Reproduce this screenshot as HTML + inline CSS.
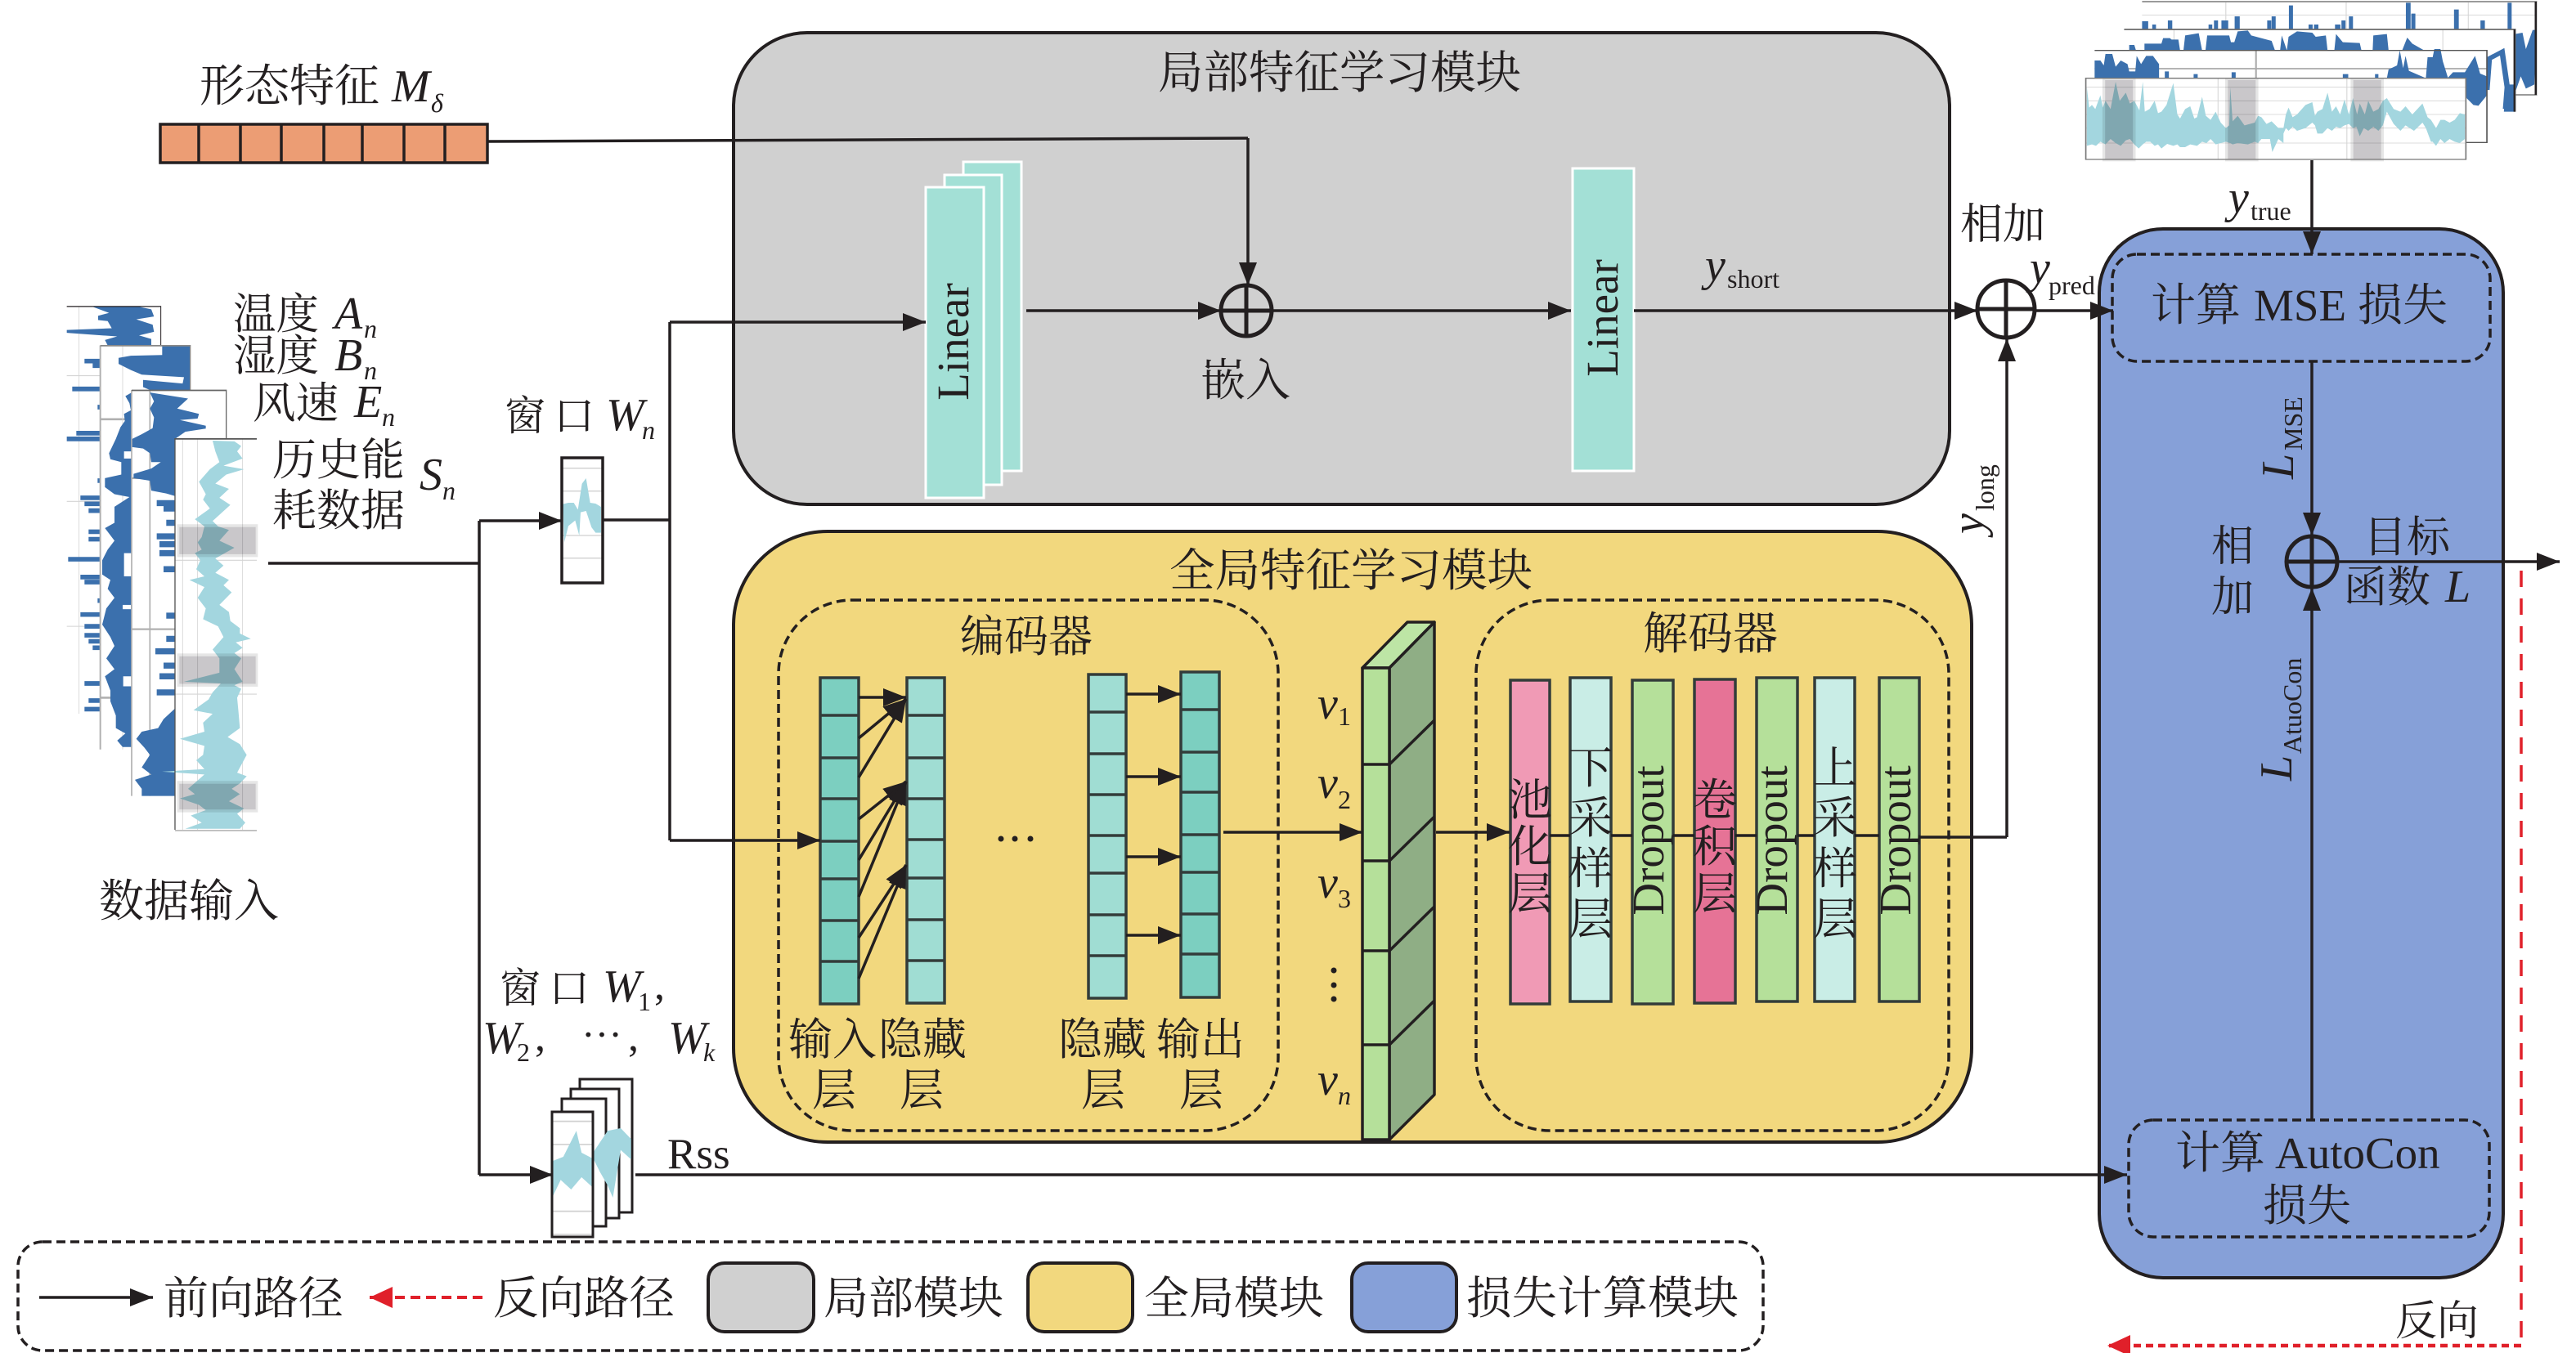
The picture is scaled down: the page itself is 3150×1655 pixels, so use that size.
<!DOCTYPE html>
<html lang="zh"><head><meta charset="utf-8"><title>模型结构图</title>
<style>
html,body{margin:0;padding:0;background:#fff}
svg{display:block}
text{font-family:"Liberation Serif","Noto Serif CJK SC",serif;fill:#231f20;font-size:54px}
.i{font-style:italic}
.s{font-size:32px}
.l{fill:none;stroke:#231f20;stroke-width:3.5}
.a{fill:none;stroke:#231f20;stroke-width:3.5;marker-end:url(#ar)}
.d{fill:none;stroke:#231f20;stroke-width:3.5;stroke-dasharray:11 6}
.g{fill:none;stroke:#d4d4d4;stroke-width:2.5}
.b{fill:#3b70ad}
.w{fill:#a3d6df}
</style></head><body>
<svg xmlns="http://www.w3.org/2000/svg" width="3150" height="1655" viewBox="0 0 3150 1655">
<defs>
<marker id="ar" markerUnits="userSpaceOnUse" markerWidth="30" markerHeight="24" refX="28" refY="11" orient="auto"><path d="M0 0L28 11L0 22Z" fill="#231f20"/></marker>
<marker id="rd" markerUnits="userSpaceOnUse" markerWidth="30" markerHeight="28" refX="28" refY="13" orient="auto"><path d="M0 0L28 13L0 26Z" fill="#e0202a"/></marker>
</defs>
<rect width="3150" height="1655" fill="#fff"/>

<!-- module backgrounds -->
<rect x="897" y="40" width="1487" height="577" rx="90" fill="#d0d0d0" stroke="#231f20" stroke-width="4"/>
<rect x="897" y="650" width="1514" height="747" rx="115" fill="#f2d87e" stroke="#231f20" stroke-width="4"/>
<rect x="2567" y="280" width="494" height="1283" rx="78" fill="#86a0d8" stroke="#231f20" stroke-width="4"/>

<!-- top-right stack -->
<g transform="translate(2500,0) scale(.4146,.3333)">
<rect x="288" y="5" width="1162" height="343" fill="#fff"/>
<path class="g" d="M288 55H1450M535 5V108M890 5V108M1250 5V108"/>
<path class="b" d="M288 108V78h18v30zM318 108V90h11v18zM364 108V75h13v33zM484 108V90h11v18zM500 108V75h12v33zM522 108V75h20v33zM561 108V60h15v48zM657 108V75h12v33zM670 108V60h12v48zM721 108V20h12v88zM779 108V90h12v18zM795 108V90h13v18zM857 108V90h16v18zM876 108V75h12v33zM898 108V60h12v48zM1066 108V10h14v98zM1082 108V50h12v58zM1208 108V35h14v73zM1286 108V75h13v33zM1366 108V10h12v98z"/>
<polygon class="b" points="1388,125 1410,120 1420,180 1440,110 1450,110 1445,310 1420,325 1405,280 1388,340"/>
<path d="M288 6H1450V348H1388" fill="none" stroke="#9a9a9a" stroke-width="6"/>
<path d="M1449 6V348" stroke="#231f20" stroke-width="6"/>
<rect x="235" y="108" width="1153" height="302" fill="#fff"/>
<path class="g" d="M382 108V185M1175 108V185"/>
<polygon class="b" points="250,185 250,165 265,165 270,185 295,185 295,160 345,160 350,140 370,140 375,145 395,145 400,185 410,185 415,130 455,122 465,185 475,185 480,130 545,130 550,155 560,155 570,115 600,112 610,130 670,150 680,185 695,185 700,130 715,185 720,135 745,115 790,120 800,135 830,130 835,185 855,185 860,125 880,155 930,158 935,185"/>
<polygon class="b" points="968,185 970,130 1010,125 1015,185"/>
<polygon class="b" points="1055,185 1070,138 1085,160 1120,185"/>
<path d="M1305 330L1312 215L1350 190L1365 320L1360 400" fill="none" stroke="#3b70ad" stroke-width="16"/>
<polygon class="b" points="1355,410 1388,410 1388,310 1362,310"/>
<path d="M235 108H1388V410" fill="none" stroke="#6a6a6a" stroke-width="5"/>
<path d="M1386 108V410" stroke="#231f20" stroke-width="5"/>
<rect x="148" y="185" width="1157" height="338" fill="#fff"/>
<path d="M148 252H1305" stroke="#aaa" stroke-width="5"/><path d="M624 185V287" stroke="#aaa" stroke-width="5"/>
<polygon class="b" points="148,287 148,222 165,222 175,240 180,198 200,198 210,245 225,222 245,235 250,262 268,262 272,205 285,235 300,205 320,205 338,235 338,287"/>
<path class="b" d="M355 287V262h12v25zM440 287V272h12v15zM552 287V265h12v22zM880 287V272h16v15zM975 287V272h10v15z"/>
<polygon class="b" points="1010,287 1015,255 1040,240 1048,185 1058,250 1065,205 1075,260 1125,287 1130,210 1145,210 1150,180 1168,180 1175,225 1190,285 1205,265 1240,265 1270,205 1285,270 1305,280 1305,350 1280,388 1265,385 1245,360 1240,287"/>
<path d="M148 185H1305V523H1240" fill="none" stroke="#555" stroke-width="4"/>
<rect x="122" y="287" width="1121" height="298" fill="#fff"/>
<path class="g" d="M122 320H1243M122 370H1243M122 420H1243M122 470H1243M122 525H1243M512 287V585M892 287V585"/>
<polygon class="w" points="125,320 132,395 140,385 150,400 165,350 172,395 180,370 195,400 210,300 222,370 240,340 252,380 265,370 280,405 290,300 296,410 310,400 325,370 335,415 345,410 360,385 380,305 392,420 400,435 415,400 430,390 442,435 450,430 465,355 476,425 490,440 505,410 520,450 535,470 545,460 548,320 555,445 570,425 590,460 620,450 630,425 640,430 655,455 670,445 690,470 705,470 712,420 720,395 732,430 745,420 770,385 790,375 798,425 805,410 820,400 835,340 848,410 860,390 872,420 885,365 898,420 910,360 922,420 930,380 945,420 955,370 970,410 985,400 998,370 1010,360 1030,400 1050,410 1065,390 1085,420 1115,380 1130,430 1140,440 1155,470 1168,440 1180,440 1195,450 1210,440 1225,415 1240,420 1240,510 1225,525 1210,520 1195,510 1180,525 1168,510 1155,535 1145,520 1140,520 1125,470 1115,450 1090,480 1065,460 1050,480 1030,455 1010,410 998,460 985,480 970,465 955,480 942,470 930,500 920,465 910,470 898,455 885,460 872,470 860,465 848,480 835,470 820,490 805,490 798,460 790,450 770,470 745,480 732,465 720,480 712,470 705,490 705,525 690,510 672,558 665,510 640,510 630,525 620,520 600,530 570,525 555,530 548,525 535,520 520,525 505,530 490,510 478,525 465,520 450,535 430,530 415,540 400,540 392,530 380,535 362,528 345,545 335,530 325,535 312,520 300,520 290,530 278,545 265,530 252,510 240,515 225,535 210,525 195,510 180,530 165,520 152,535 140,530 125,535"/>
<g style="mix-blend-mode:multiply" fill="#c9c7ca" stroke="#e6e6e6" stroke-width="8">
<rect x="175" y="290" width="90" height="298"/><rect x="537" y="290" width="90" height="298"/><rect x="907" y="290" width="90" height="298"/></g>
<path d="M122 287H1243V585H122Z" fill="none" stroke="#777" stroke-width="4"/>
</g>

<!-- left stack -->
<g transform="translate(60,360) scale(.3333,.4367)">
<rect x="65" y="33" width="345" height="1142" fill="#fff"/>
<path class="g" d="M110 33V1175M65 228H188M65 580H188M65 930H188" stroke-width="3"/>
<path fill="none" stroke="#3b70ad" stroke-width="13" d="M130 187H188M160 200H188M85 265H188M178 316H188M100 389H188M65 405H188M178 522H188M115 570H188M130 587H188M145 606H188M145 665H188M145 686H188M70 742H188M115 792H188M130 806H188M178 858H188M115 897H188M130 930H188M130 955H188M145 972H188M160 990H188M130 1090H188M145 1138H188M130 1162H188"/>
<polygon class="b" points="160,35 330,35 375,42 385,62 320,70 380,85 385,105 330,115 375,125 375,143 215,143 205,128 250,118 65,108 65,100 230,95 215,75 180,72 180,60 220,52"/>
<path d="M65 34H410V143" fill="none" stroke="#231f20" stroke-width="3"/>
<rect x="188" y="143" width="330" height="1132" fill="#fff"/>
<path d="M188 143V1275M188 350H303M188 1130H303" fill="none" stroke="#b0b0b0" stroke-width="6"/><path class="g" d="M270 143V1275"/>
<polygon class="b" points="518,145 415,145 415,170 300,172 255,178 255,195 300,212 340,225 495,232 490,250 345,240 345,260 370,268 518,268"/>
<polygon class="b" points="303,275 280,285 295,305 300,325 275,335 278,355 262,372 245,405 220,445 225,462 265,470 265,505 205,515 205,540 240,560 295,568 240,595 240,640 205,655 240,690 215,715 195,745 195,785 225,800 215,825 240,850 210,880 195,925 225,960 240,985 210,1020 240,1050 205,1070 225,1110 225,1140 245,1180 245,1215 280,1230 250,1250 270,1268 303,1268"/>
<g fill="#fff"><rect x="275" y="725" width="28" height="65"/><rect x="272" y="1070" width="30" height="28"/><rect x="275" y="440" width="28" height="20"/><rect x="270" y="870" width="30" height="12"/></g>
<path d="M188 144H518V268" fill="none" stroke="#888" stroke-width="4"/>
<rect x="303" y="268" width="347" height="1137" fill="#fff"/>
<path d="M303 268V1405M303 515H462M303 938H462M370 268V1405" fill="none" stroke="#b0b0b0" stroke-width="5"/>
<polygon class="b" points="370,275 510,292 470,320 550,335 545,348 480,352 575,368 575,376 500,385 462,405 462,565 430,558 375,550 370,522 310,515 310,503 375,488 410,470 375,470 370,445 345,432 305,428 305,405 340,392 380,375 385,345 370,320 385,300"/>
<path fill="none" stroke="#3b70ad" stroke-width="17" d="M395 585H462M420 600H462M430 640H462M395 678H462M405 700H462M405 725H462M420 770H462M430 900H462M430 965H462M390 1000H462M420 1040H462M405 1070H462M395 1115H462"/>
<polygon class="b" points="462,1160 420,1190 400,1215 340,1225 320,1245 350,1270 370,1290 340,1325 375,1345 315,1360 340,1385 340,1405 462,1405"/>
<path d="M303 269H650V405" fill="none" stroke="#666" stroke-width="4"/>
<rect x="462" y="405" width="300" height="1100" fill="#fff"/>
<path class="g" d="M490 405V1500M545 405V1500M710 405V1500M462 745H762M462 1120H762"/>
<polygon class="w" points="600,410 610,440 625,470 590,490 550,525 575,560 565,575 590,600 535,630 570,650 560,680 545,695 560,715 535,725 555,745 540,770 570,790 515,800 570,820 545,850 575,880 565,910 620,930 640,960 600,995 625,1020 625,1060 495,1085 630,1090 600,1115 585,1135 530,1165 600,1175 565,1200 570,1225 480,1245 570,1265 565,1290 540,1305 570,1330 415,1337 570,1345 540,1365 510,1385 535,1400 480,1412 550,1430 575,1445 520,1460 560,1480 500,1497 700,1497 720,1480 690,1455 715,1440 660,1420 700,1400 670,1385 700,1370 725,1350 690,1340 725,1290 700,1260 655,1240 700,1215 695,1170 690,1130 705,1105 680,1095 710,1085 680,1050 705,1020 680,1005 710,990 685,975 740,965 700,950 700,935 665,915 660,890 625,870 670,835 640,815 660,800 610,780 640,760 610,740 680,710 625,690 660,660 620,650 600,635 665,590 625,570 660,545 610,530 650,505 715,490 640,480 710,460 690,440 705,425 680,412"/>
<g style="mix-blend-mode:multiply" fill="#c9c7ca" stroke="#e6e6e6" stroke-width="8">
<rect x="474" y="648" width="288" height="84"/><rect x="474" y="1010" width="288" height="85"/><rect x="474" y="1367" width="288" height="80"/></g>
<path d="M762 405H462V1500" fill="none" stroke="#555" stroke-width="4"/>
<path d="M462 1502H762" stroke="#bbb" stroke-width="4"/>
</g>

<!-- Orange feature bar -->
<g fill="#ec9d74" stroke="#231f20" stroke-width="3.5">
<rect x="196" y="152" width="400" height="47"/>
<path fill="none" d="M243 152V199M294 152V199M344 152V199M396 152V199M443 152V199M494 152V199M544 152V199"/>
</g>

<!-- Window Wn -->
<g>
<rect x="687" y="560" width="50" height="153" fill="#fff"/>
<g transform="translate(660,540) scale(.3333)">
<path d="M85 98H228M85 182H228M85 345H228M85 428H228" stroke="#d0d0d0" stroke-width="4"/>
<polygon class="w" points="85,230 105,225 125,225 140,250 155,155 170,135 185,225 205,228 225,240 225,335 205,335 190,315 170,255 150,260 145,345 130,290 105,310 90,370"/>
</g>
<rect x="687" y="560" width="50" height="153" fill="none" stroke="#231f20" stroke-width="3.5"/>
</g>

<!-- Window stack -->
<g fill="#fff" stroke="#231f20" stroke-width="3">
<rect x="709" y="1320" width="64" height="163"/>
<rect x="698" y="1332" width="59" height="158"/>
<rect x="687" y="1344" width="54" height="156"/>
</g>
<g transform="translate(0,1150) scale(.6378,.3333)">
<polygon class="w" points="1137,780 1165,700 1190,690 1210,730 1210,805 1190,770 1175,945 1165,900 1150,850 1137,800"/>
</g>
<rect x="675" y="1360" width="50" height="153" fill="#fff" stroke="#231f20" stroke-width="3"/>
<g transform="translate(0,1150) scale(.6378,.3333)">
<path d="M1060 665H1135M1060 750H1135M1060 995H1135M1060 1080H1135" stroke="#d0d0d0" stroke-width="5"/>
<polygon class="w" points="1060,810 1080,795 1105,700 1115,780 1135,800 1135,905 1115,870 1095,915 1075,880 1060,940"/>
</g>
<rect x="675" y="1360" width="50" height="153" fill="none" stroke="#231f20" stroke-width="3"/>

<!-- Linear blocks -->
<g fill="#a3e0d6" stroke="#fff" stroke-width="3">
<rect x="1178" y="198" width="71" height="378"/>
<rect x="1155" y="214" width="70" height="379"/>
<rect x="1132" y="229" width="71" height="380"/>
<rect x="1923" y="206" width="75" height="370"/>
</g>

<!-- Encoder columns -->
<rect x="952" y="734" width="611" height="649" rx="90" class="d"/>
<rect x="1805" y="734" width="578" height="649" rx="90" class="d"/>
<g stroke="#333c3a" stroke-width="3.5">
<rect x="1003" y="829" width="47" height="399" fill="#7ccfc0"/>
<path d="M1003 875H1050M1003 927H1050M1003 977H1050M1003 1029H1050M1003 1075H1050M1003 1126H1050M1003 1176H1050"/>
<rect x="1109" y="829" width="46" height="398" fill="#a0ddd3"/>
<path d="M1109 875H1155M1109 927H1155M1109 977H1155M1109 1027H1155M1109 1074H1155M1109 1125H1155M1109 1175H1155"/>
<rect x="1331" y="825" width="46" height="396" fill="#a0ddd3"/>
<path d="M1331 871H1377M1331 922H1377M1331 972H1377M1331 1022H1377M1331 1068H1377M1331 1119H1377M1331 1169H1377"/>
<rect x="1444" y="822" width="47" height="398" fill="#7ccfc0"/>
<path d="M1444 868H1491M1444 920H1491M1444 969H1491M1444 1021H1491M1444 1067H1491M1444 1118H1491M1444 1167H1491"/>
</g>
<g fill="#231f20"><circle cx="1224" cy="1026" r="3.5"/><circle cx="1241" cy="1026" r="3.5"/><circle cx="1260" cy="1026" r="3.5"/>
<circle cx="1631" cy="1187" r="3.5"/><circle cx="1631" cy="1205" r="3.5"/><circle cx="1631" cy="1222" r="3.5"/></g>

<!-- 3D latent block -->
<g stroke="#231f20" stroke-width="3.5" stroke-linejoin="round">
<polygon points="1666,817 1699,817 1754,761 1721,761" fill="#bde5a5"/>
<polygon points="1699,817 1754,761 1754,1339 1699,1394" fill="#8fae85"/>
<rect x="1666" y="817" width="33" height="577" fill="#b5e09a"/>
<path fill="none" d="M1666 935H1699L1754 881M1666 1053H1699L1754 999M1666 1163H1699L1754 1109M1666 1278H1699L1754 1224"/>
</g>

<!-- Decoder bars -->
<g stroke="#333c3a" stroke-width="3.5">
<rect x="1847" y="832" width="48" height="396" fill="#f09ab5"/>
<rect x="1920" y="829" width="50" height="396" fill="#c9ede6"/>
<rect x="1996" y="832" width="50" height="396" fill="#b5e09a"/>
<rect x="2072" y="831" width="50" height="396" fill="#e67396"/>
<rect x="2148" y="829" width="50" height="396" fill="#b5e09a"/>
<rect x="2219" y="829" width="49" height="396" fill="#c9ede6"/>
<rect x="2298" y="829" width="49" height="396" fill="#b5e09a"/>
</g>

<!-- Loss dashed boxes -->
<rect x="2583" y="311" width="462" height="131" rx="30" class="d"/>
<rect x="2603" y="1370" width="441" height="143" rx="30" class="d"/>

<!-- Connectors -->
<path class="l" d="M596 173L1526 169"/>
<path class="a" d="M1526 169V349"/>
<path class="a" d="M819 394H1132"/>
<path class="l" d="M819 394V1028"/>
<path class="a" d="M819 1028H1003"/>
<path class="l" d="M737 636H819"/>
<path class="a" d="M586 637H687"/>
<path class="l" d="M328 689H586M586 637V1437"/>
<path class="a" d="M586 1437H676"/>
<path class="a" d="M777 1437H2601"/>
<path class="a" d="M1255 380H1493"/>
<path class="a" d="M1555 380H1921"/>
<path class="a" d="M1998 380H2418"/>
<path class="a" d="M2488 380H2584"/>
<path class="a" d="M2454 1024V414"/>
<path class="l" d="M2347 1024H2454"/>
<path class="l" d="M1895 1022H1920M1970 1022H1996M2046 1022H2072M2122 1022H2148M2198 1022H2219M2268 1022H2298"/>
<path class="a" d="M1496 1018H1666"/>
<path class="a" d="M1756 1018H1846"/>
<path class="a" d="M2827 196V311"/>
<path class="a" d="M2827 442V655"/>
<path class="a" d="M2827 1370V719"/>
<path class="a" d="M2858 687H3130"/>
<path class="a" d="M1050 853H1108"/>
<path class="a" d="M1050 903L1108 855"/><path class="a" d="M1050 951L1108 855"/>
<path class="a" d="M1050 1002L1108 956"/><path class="a" d="M1050 1052L1108 956"/><path class="a" d="M1050 1097L1108 956"/>
<path class="a" d="M1050 1147L1108 1058"/><path class="a" d="M1050 1197L1108 1058"/>
<path class="a" d="M1377 849H1444"/><path class="a" d="M1377 950H1444"/><path class="a" d="M1377 1048H1444"/><path class="a" d="M1377 1144H1444"/>

<!-- Sum circles -->
<g fill="none" stroke="#231f20" stroke-width="5">
<circle cx="1524" cy="380" r="31"/><path d="M1493 380H1555M1524 349V411"/>
<circle cx="2453" cy="378" r="35"/><path d="M2418 378H2488M2453 343V413"/>
<circle cx="2827" cy="687" r="31"/><path d="M2796 687H2858M2827 656V718"/>
</g>

<!-- Red back path -->
<path d="M3083 698V1646" fill="none" stroke="#e0202a" stroke-width="3.5" stroke-dasharray="20 14"/>
<path d="M3083 1646H2577" fill="none" stroke="#e0202a" stroke-width="4.5" stroke-dasharray="9 6" marker-end="url(#rd)"/>

<!-- Legend -->
<rect x="22" y="1519" width="2134" height="133" rx="30" class="d"/>
<path class="a" d="M48 1587H187"/>
<path d="M590 1587H452" fill="none" stroke="#e0202a" stroke-width="4" stroke-dasharray="12 7" marker-end="url(#rd)"/>
<rect x="866" y="1545" width="129" height="84" rx="20" fill="#d0d0d0" stroke="#231f20" stroke-width="4"/>
<rect x="1257" y="1545" width="128" height="84" rx="20" fill="#f2d87e" stroke="#231f20" stroke-width="4"/>
<rect x="1653" y="1545" width="128" height="84" rx="20" fill="#86a0d8" stroke="#231f20" stroke-width="4"/>
<text x="200" y="1607" style="font-size:55px">前向路径</text>
<text x="603" y="1607" style="font-size:55.5px">反向路径</text>
<text x="1007" y="1607" style="font-size:55px">局部模块</text>
<text x="1399" y="1607" style="font-size:55px">全局模块</text>
<text x="1793" y="1607" style="font-size:55.5px">损失计算模块</text>
<text x="2929" y="1633" style="font-size:51px">反向</text>

<!-- Titles -->
<text x="1416" y="108" style="font-size:55.5px">局部特征学习模块</text>
<text x="1430" y="717" style="font-size:55.5px">全局特征学习模块</text>
<text x="1174" y="797" style="font-size:54px">编码器</text>
<text x="2009" y="794" style="font-size:55px">解码器</text>

<!-- Left labels -->
<text x="244" y="124" style="font-size:55px">形态特征</text>
<text x="479" y="124" class="i" style="font-size:56px">M</text><text x="527" y="137" class="i s">δ</text>
<text x="285" y="402" style="font-size:52.5px">温度</text><text x="409" y="402" class="i" style="font-size:56px">A</text><text x="445" y="413" class="i s">n</text>
<text x="285" y="453" style="font-size:52.5px">湿度</text><text x="409" y="453" class="i" style="font-size:56px">B</text><text x="445" y="464" class="i s">n</text>
<text x="309" y="511" style="font-size:52.5px">风速</text><text x="433" y="510" class="i" style="font-size:56px">E</text><text x="467" y="521" class="i s">n</text>
<text x="333" y="581">历史能</text><text x="333" y="643">耗数据</text>
<text x="513" y="599" class="i" style="font-size:56px">S</text><text x="541" y="611" class="i s">n</text>
<text x="121" y="1121" style="font-size:55px">数据输入</text>
<text x="617" y="526" style="font-size:50px;letter-spacing:10px">窗口</text>
<text x="741" y="526" class="i" style="font-size:56px">W</text><text x="785" y="537" class="i s">n</text>
<text x="611" y="1226" style="font-size:50px;letter-spacing:10px">窗口</text>
<text x="737" y="1225" class="i" style="font-size:56px">W</text><text x="780" y="1236" class="s">1</text><text x="800" y="1222" style="font-size:52px">,</text>
<text x="590" y="1288" class="i" style="font-size:56px">W</text><text x="632" y="1298" class="s">2</text><text x="654" y="1285" style="font-size:52px">,</text>
<text x="711" y="1282" style="font-size:50px">···</text><text x="768" y="1285" style="font-size:52px">,</text>
<text x="817" y="1288" class="i" style="font-size:56px">W</text><text x="860" y="1298" class="i s">k</text>
<text x="816" y="1429" style="font-size:53px">Rss</text>

<!-- Local module labels -->
<text transform="translate(1184,418) rotate(-90)" text-anchor="middle" style="font-size:55px">Linear</text>
<text transform="translate(1978,389) rotate(-90)" text-anchor="middle" style="font-size:55px">Linear</text>
<text x="1468" y="484" style="font-size:55px">嵌入</text>
<text x="2085" y="343" class="i" style="font-size:56px">y</text><text x="2112" y="352" class="s">short</text>

<!-- Encoder labels -->
<text x="964" y="1290" style="font-size:54px">输入</text>
<text x="1074" y="1290" style="font-size:54px">隐藏</text>
<text x="993" y="1352" style="font-size:54px">层</text>
<text x="1100" y="1352" style="font-size:54px">层</text>
<text x="1294" y="1290" style="font-size:54px">隐藏</text>
<text x="1414" y="1290" style="font-size:54px">输出</text>
<text x="1322" y="1352" style="font-size:54px">层</text>
<text x="1442" y="1352" style="font-size:54px">层</text>
<text x="1611" y="879" class="i" style="font-size:56px">v</text><text x="1636" y="887" class="s">1</text>
<text x="1611" y="976" class="i" style="font-size:56px">v</text><text x="1636" y="989" class="s">2</text>
<text x="1611" y="1098" class="i" style="font-size:56px">v</text><text x="1636" y="1110" class="s">3</text>
<text x="1611" y="1339" class="i" style="font-size:56px">v</text><text x="1636" y="1351" class="i s">n</text>

<!-- Decoder labels -->
<text x="1871" y="997" text-anchor="middle" style="font-size:54px">池</text><text x="1871" y="1054" text-anchor="middle" style="font-size:54px">化</text><text x="1871" y="1112" text-anchor="middle" style="font-size:54px">层</text>
<text x="1945" y="958" text-anchor="middle" style="font-size:54px">下</text><text x="1945" y="1019" text-anchor="middle" style="font-size:54px">采</text><text x="1945" y="1081" text-anchor="middle" style="font-size:54px">样</text><text x="1945" y="1143" text-anchor="middle" style="font-size:54px">层</text>
<text x="2097" y="997" text-anchor="middle" style="font-size:54px">卷</text><text x="2097" y="1054" text-anchor="middle" style="font-size:54px">积</text><text x="2097" y="1112" text-anchor="middle" style="font-size:54px">层</text>
<text x="2244" y="958" text-anchor="middle" style="font-size:54px">上</text><text x="2244" y="1019" text-anchor="middle" style="font-size:54px">采</text><text x="2244" y="1081" text-anchor="middle" style="font-size:54px">样</text><text x="2244" y="1143" text-anchor="middle" style="font-size:54px">层</text>
<text transform="translate(2034,1028) rotate(-90)" text-anchor="middle" style="font-size:55px">Dropout</text>
<text transform="translate(2185,1028) rotate(-90)" text-anchor="middle" style="font-size:55px">Dropout</text>
<text transform="translate(2336,1028) rotate(-90)" text-anchor="middle" style="font-size:55px">Dropout</text>

<!-- Right labels -->
<text x="2397" y="292" style="font-size:52px">相加</text>
<text x="2482" y="346" class="i" style="font-size:56px">y</text><text x="2505" y="360" class="s">pred</text>
<text x="2725" y="260" class="i" style="font-size:56px">y</text><text x="2752" y="269" class="s">true</text>
<text x="2630" y="392" style="font-size:55px">计算</text><text x="2756" y="392" style="font-size:55px">MSE</text><text x="2883" y="392" style="font-size:55px">损失</text>
<text x="2660" y="1429" style="font-size:55px">计算</text><text x="2782" y="1429" style="font-size:55px">AutoCon</text>
<text x="2767" y="1493" style="font-size:54px">损失</text>
<text x="2704" y="686" style="font-size:52px">相</text>
<text x="2704" y="748" style="font-size:52px">加</text>
<text x="2890" y="675" style="font-size:53px">目标</text>
<text x="2866" y="736" style="font-size:53px">函数</text><text x="2990" y="736" class="i" style="font-size:56px">L</text>
<text transform="translate(2804,586) rotate(-90)" class="i" style="font-size:56px">L</text>
<text transform="translate(2815,551) rotate(-90)" class="s">MSE</text>
<text transform="translate(2802,955) rotate(-90)" class="i" style="font-size:56px">L</text>
<text transform="translate(2814,922) rotate(-90)" class="s">AtuoCon</text>
<text transform="translate(2425,653) rotate(-90)" class="i" style="font-size:56px">y</text>
<text transform="translate(2438,625) rotate(-90)" class="s">long</text>
</svg>
</body></html>
